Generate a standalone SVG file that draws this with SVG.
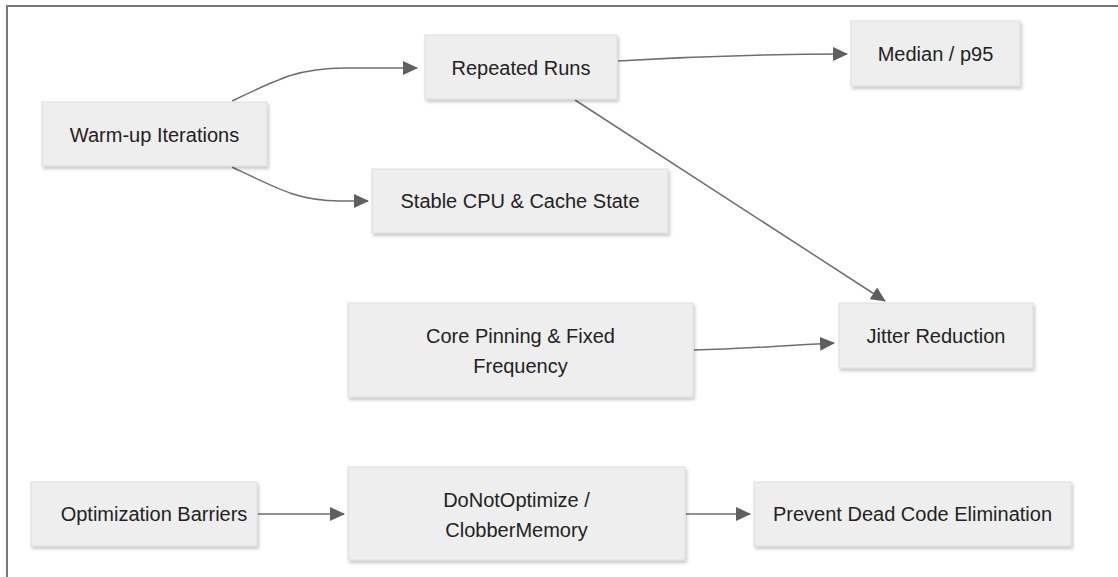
<svg xmlns="http://www.w3.org/2000/svg" width="1118" height="577" viewBox="0 0 1118 577">
  <defs>
    <filter id="shadow" x="-10%" y="-20%" width="125%" height="150%">
      <feDropShadow dx="1.5" dy="2.5" stdDeviation="1.8" flood-color="#000" flood-opacity="0.22"/>
    </filter>
    <marker id="arrow" viewBox="0 0 15 14" refX="14" refY="7" markerWidth="15" markerHeight="14" markerUnits="userSpaceOnUse" orient="auto">
      <path d="M0,0 L15,7 L0,14 Z" fill="#5f5f5f"/>
    </marker>
    <style>
      .box { fill: #eeeeee; stroke: #dcdcdc; stroke-width: 1; filter: url(#shadow); }
      .label { font-family: "Liberation Sans", Arial, sans-serif; font-size: 20px; fill: #222; text-anchor: middle; }
      .edge { fill: none; stroke: #6e6e6e; stroke-width: 1.5; marker-end: url(#arrow); }
      .frame { fill: none; stroke: #777; stroke-width: 2; }
    </style>
  </defs>

  <rect width="1118" height="577" fill="#ffffff"/>
  <path class="frame" d="M7,577 L7,6 L1118,6"/>

  <g id="connectors">
    <path class="edge" d="M232,101 C280,78 300,68 345,68 L417,68"/>
    <path class="edge" d="M232,167 C280,190 300,201 340,201 L368,201"/>
    <path class="edge" d="M618,61 C700,56 760,54 847,54"/>
    <path class="edge" d="M575,100 L885,301"/>
    <path class="edge" d="M694,350 C740,349 780,346 834,343"/>
    <path class="edge" d="M258,514 L344,514"/>
    <path class="edge" d="M686,514 L750,514"/>
  </g>

  <g id="warmup">
    <rect class="box" x="42" y="102" width="225" height="64"/>
    <text class="label" x="154.5" y="142">Warm-up Iterations</text>
  </g>
  <g id="repeated">
    <rect class="box" x="425" y="35" width="192" height="64"/>
    <text class="label" x="521" y="75">Repeated Runs</text>
  </g>
  <g id="stable">
    <rect class="box" x="372" y="169" width="296" height="64"/>
    <text class="label" x="520" y="208">Stable CPU &amp; Cache State</text>
  </g>
  <g id="median">
    <rect class="box" x="851" y="21" width="169" height="65"/>
    <text class="label" x="935.5" y="61">Median / p95</text>
  </g>
  <g id="pinning">
    <rect class="box" x="348" y="303" width="345" height="94"/>
    <text class="label" x="520.5" y="343">Core Pinning &amp; Fixed</text>
    <text class="label" x="520.5" y="373">Frequency</text>
  </g>
  <g id="jitter">
    <rect class="box" x="839" y="303" width="194" height="65"/>
    <text class="label" x="936" y="343">Jitter Reduction</text>
  </g>
  <g id="barriers">
    <rect class="box" x="31" y="482" width="226" height="64"/>
    <text class="label" x="154" y="521">Optimization Barriers</text>
  </g>
  <g id="donotoptimize">
    <rect class="box" x="348" y="467" width="337" height="93"/>
    <text class="label" x="516.5" y="507">DoNotOptimize /</text>
    <text class="label" x="516.5" y="537">ClobberMemory</text>
  </g>
  <g id="prevent">
    <rect class="box" x="754" y="482" width="317" height="64"/>
    <text class="label" x="912.5" y="521">Prevent Dead Code Elimination</text>
  </g>
</svg>
